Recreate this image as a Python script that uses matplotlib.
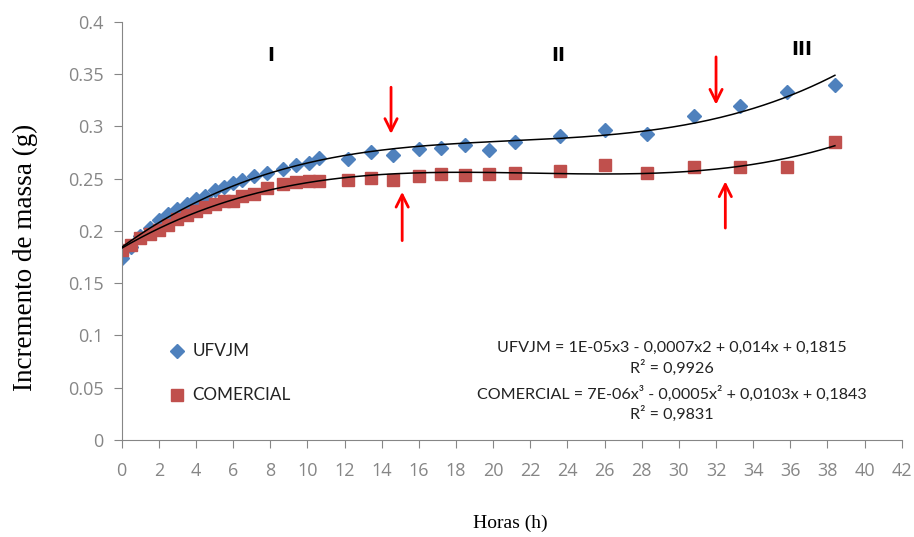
import numpy as np
import matplotlib
matplotlib.use('Agg')
import matplotlib.pyplot as plt

## DATA
horas = [0, 0.5, 1.0, 1.5, 2.0, 2.5, 3.0, 3.5, 4.0, 4.5, 5.0, 5.5, 6.0, 6.5, 7.1,
         7.8, 8.7, 9.4, 10.1, 10.6, 12.2, 13.4, 14.6, 16.0, 17.2, 18.5, 19.8,
         21.2, 23.6, 26.0, 28.3, 30.8, 33.3, 35.8, 38.4]
ufvjm = [0.174, 0.185, 0.195, 0.203, 0.210, 0.216, 0.221, 0.226, 0.230, 0.233,
         0.239, 0.242, 0.246, 0.249, 0.252, 0.255, 0.259, 0.263, 0.265, 0.270,
         0.269, 0.275, 0.273, 0.278, 0.279, 0.282, 0.277, 0.285, 0.291, 0.296,
         0.293, 0.310, 0.319, 0.333, 0.339]
comercial = [0.182, 0.186, 0.193, 0.197, 0.201, 0.206, 0.211, 0.215, 0.219, 0.223,
             0.226, 0.229, 0.229, 0.233, 0.235, 0.241, 0.245, 0.247, 0.248, 0.248,
             0.249, 0.251, 0.249, 0.252, 0.254, 0.253, 0.254, 0.255, 0.257, 0.263,
             0.255, 0.261, 0.261, 0.261, 0.285]

x_ticks = list(range(0, 43, 2))
y_ticks = [0, 0.05, 0.1, 0.15, 0.2, 0.25, 0.3, 0.35, 0.4]
y_labels = ['0', '0.05', '0.1', '0.15', '0.2', '0.25', '0.3', '0.35', '0.4']

eq_ufvjm = 'UFVJM = 1E-05x3 - 0,0007x2 + 0,014x + 0,1815'
r2_ufvjm = 'R² = 0,9926'
eq_comercial = 'COMERCIAL = 7E-06x³ - 0,0005x² + 0,0103x + 0,1843'
r2_comercial = 'R² = 0,9831'

fases = ['I', 'II', 'III']
fases_x = [8.0, 23.5, 36.6]
fases_y = [0.368, 0.368, 0.373]

# (x, y inicio, y fim) das setas
setas = [(14.5, 0.340, 0.290), (15.1, 0.188, 0.240),
         (32.0, 0.369, 0.318), (32.5, 0.200, 0.250)]

azul = '#4F81BD'
vermelho = '#C0504D'
cinza = '#868686'
font = 'Lato'
tick_font = 'Open Sans'

fig = plt.figure(figsize=(9.14, 5.37), dpi=100)
ax = fig.add_axes([0.1332, 0.1806, 0.8534, 0.779])

x = np.array(horas)
xs = np.linspace(0, x.max(), 300)
for ys in (ufvjm, comercial):
    coef = np.polyfit(x, ys, 3)
    ax.plot(xs, np.polyval(coef, xs), color='black', lw=1.1, zorder=3)

ax.plot(horas, ufvjm, 'D', color=azul, ms=7.5, mec=azul, zorder=2)
ax.plot(horas, comercial, 's', color=vermelho, ms=9, mec=vermelho, zorder=2)

for sx, y0, y1 in setas:
    ax.annotate('', xy=(sx, y1), xytext=(sx, y0),
                arrowprops=dict(arrowstyle='->', color='red', lw=2,
                                mutation_scale=22))

for t, fx, fy in zip(fases, fases_x, fases_y):
    ax.text(fx, fy, t, ha='center', va='center', fontsize=13.5,
            fontweight='bold', family='DejaVu Sans')

# legenda
ax.plot([3.0], [0.085], 'D', color=azul, ms=7)
ax.text(3.8, 0.085, 'UFVJM', va='center', fontsize=12.3, family=font, color='#222222')
ax.plot([3.0], [0.043], 's', color=vermelho, ms=9)
ax.text(3.8, 0.043, 'COMERCIAL', va='center', fontsize=12.3, family=font, color='#222222')

for txt, ty in zip([eq_ufvjm, r2_ufvjm, eq_comercial, r2_comercial],
                   [0.0885, 0.069, 0.044, 0.0255]):
    ax.text(29.6, ty, txt, ha='center', va='center', fontsize=11.6,
            family=font, color='#222222')

ax.set_xlim(0, 42)
ax.set_ylim(0, 0.4)
ax.set_xticks(x_ticks)
ax.set_xticklabels([str(v) for v in x_ticks], fontsize=13, family=tick_font,
                   color='#404040')
ax.set_yticks(y_ticks)
ax.set_yticklabels(y_labels, fontsize=13, family=tick_font, color='#404040')

for s in ('top', 'right'):
    ax.spines[s].set_visible(False)
for s in ('left', 'bottom'):
    ax.spines[s].set_color(cinza)
ax.tick_params(axis='both', colors=cinza, length=6, direction='out')
ax.tick_params(axis='y', pad=7)
ax.tick_params(axis='x', pad=10)

fig.text(510 / 914, 1 - 523 / 537, 'Horas (h)', family='Liberation Serif',
         fontsize=14, ha='center', va='center')
fig.text(25 / 914, 1 - 257 / 537, 'Incremento de massa (g)', family='Liberation Serif',
         fontsize=19.5, ha='center', va='center', rotation=90)

fig.savefig('out.png', dpi=100)
